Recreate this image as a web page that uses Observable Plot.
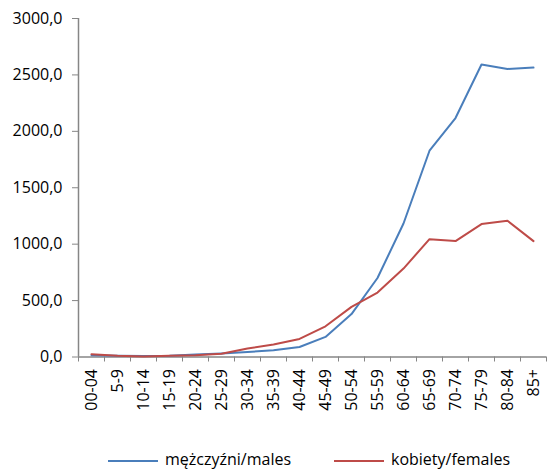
<!DOCTYPE html>
<html><head><meta charset="utf-8">
<script src="https://cdn.jsdelivr.net/npm/d3@7"></script>
<script src="https://cdn.jsdelivr.net/npm/@observablehq/plot@0.6"></script>
<style>
body{margin:0;background:#fff;font-family:"Open Sans",sans-serif;overflow:hidden;}
#legend{position:relative;height:19px;font-size:16px;color:#000;}
.li{position:absolute;top:0;height:19px;line-height:19px;white-space:nowrap;}
.sw{display:inline-block;width:50px;height:2px;vertical-align:middle;margin-right:7px;}
</style></head><body>
<div id="chart"></div>
<div id="legend"></div>
<script>
const categories = ["00-04","5-9","10-14","15-19","20-24","25-29","30-34","35-39","40-44","45-49","50-54","55-59","60-64","65-69","70-74","75-79","80-84","85+"];
const males = [15, 10, 8, 12, 22, 32, 45, 59, 89, 178, 380, 700, 1183, 1828, 2118, 2592, 2553, 2565];
const females = [25, 12, 5, 10, 15, 28, 75, 110, 160, 272, 444, 571, 784, 1044, 1027, 1178, 1207, 1027];
const yTicks = [0, 500, 1000, 1500, 2000, 2500, 3000];
const seriesNames = ["mężczyźni/males", "kobiety/females"];
const colors = ["#4A7EBB", "#BE4B48"];

const rows = [];
categories.forEach((c, i) => {
  rows.push({i, v: males[i], s: seriesNames[0]});
  rows.push({i, v: females[i], s: seriesNames[1]});
});
const gray = "#868686";
const chart = Plot.plot({
  width: 547, height: 450,
  marginLeft: 78, marginRight: 1, marginTop: 18, marginBottom: 93.5,
  style: {fontFamily: "'Open Sans', sans-serif", fontSize: "16px", color: "#000", background: "#fff"},
  x: {type: "linear", domain: [-0.5, categories.length - 0.5]},
  y: {domain: [0, 3000]},
  color: {domain: seriesNames, range: colors},
  marks: [
    Plot.axisY({ticks: yTicks, tickFormat: d => d.toFixed(1).replace(".", ","), tickSize: 6, tickPadding: 10, stroke: gray, label: null, fill: "#000"}),
    Plot.axisX({ticks: d3.range(categories.length + 1).map(i => i - 0.5), tickFormat: () => "", tickSize: 5, stroke: gray, label: null}),
    Plot.axisX({ticks: d3.range(categories.length), tickFormat: i => categories[i], tickRotate: -90, tickSize: 0, tickPadding: 12, label: null, fill: "#000"}),
    Plot.ruleX([-0.5], {stroke: gray, strokeWidth: 1.5}),
    Plot.ruleY([0], {stroke: gray, strokeWidth: 1.5}),
    Plot.line(rows, {x: "i", y: "v", z: "s", stroke: "s", strokeWidth: 2})
  ]
});
chart.style.display = "block";
document.getElementById("chart").appendChild(chart);
const leg = document.getElementById("legend");
const lx = [108, 334];
seriesNames.forEach((n, k) => {
  const d = document.createElement("div");
  d.className = "li";
  d.style.left = lx[k] + "px";
  d.innerHTML = `<span class="sw" style="background:${colors[k]}"></span>${n}`;
  leg.appendChild(d);
});
</script>
</body></html>
